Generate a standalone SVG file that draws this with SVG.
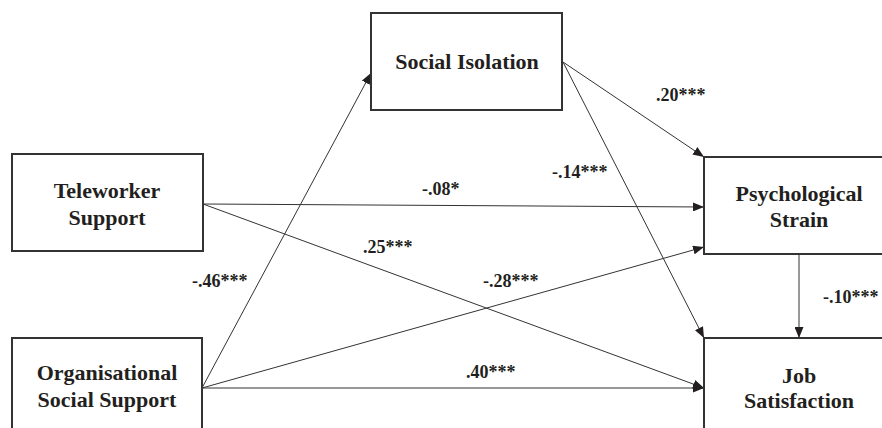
<svg xmlns="http://www.w3.org/2000/svg" width="882" height="428" viewBox="0 0 882 428">
<defs>
<style>
.box{fill:#fff;stroke:#333;stroke-width:2}
.nt{font-family:"Liberation Serif","Times New Roman",serif;font-weight:bold;font-size:22px;fill:#231f20;text-anchor:middle}
.lb{font-family:"Liberation Serif","Times New Roman",serif;font-weight:bold;font-size:18px;fill:#231f20}
.cn{stroke:#333;stroke-width:1;fill:none;marker-end:url(#ah)}
</style>
<marker id="ah" markerUnits="userSpaceOnUse" markerWidth="11" markerHeight="9" refX="11" refY="4.5" orient="auto">
<path d="M0,0 L11,4.5 L0,9 z" fill="#231f20"/>
</marker>
</defs>
<rect width="882" height="428" fill="#fff"/>
<g id="connectors">
<line class="cn" x1="202" y1="388" x2="371" y2="73"/>
<line class="cn" x1="202" y1="388" x2="704" y2="247"/>
<line class="cn" x1="202" y1="388" x2="704" y2="388"/>
<line class="cn" x1="203" y1="204" x2="704" y2="207"/>
<line class="cn" x1="203" y1="204" x2="704" y2="388"/>
<line class="cn" x1="563" y1="62" x2="704" y2="157"/>
<line class="cn" x1="563" y1="62" x2="704" y2="338"/>
<line class="cn" x1="799" y1="254" x2="799" y2="338"/>
</g>
<g id="social-isolation">
<rect class="box" x="371" y="13" width="191" height="97"/>
<text class="nt" x="467" y="69">Social Isolation</text>
</g>
<g id="teleworker-support">
<rect class="box" x="12" y="154" width="191" height="97"/>
<text class="nt" x="107" y="198">Teleworker</text>
<text class="nt" x="107" y="225">Support</text>
</g>
<g id="organisational-social-support">
<rect class="box" x="12" y="338" width="190" height="110"/>
<text class="nt" x="107" y="380">Organisational</text>
<text class="nt" x="107" y="407">Social Support</text>
</g>
<g id="psychological-strain">
<rect class="box" x="704" y="157" width="200" height="97"/>
<text class="nt" x="799" y="201">Psychological</text>
<text class="nt" x="799" y="227">Strain</text>
</g>
<g id="job-satisfaction">
<rect class="box" x="704" y="338" width="200" height="110"/>
<text class="nt" x="799" y="383">Job</text>
<text class="nt" x="799" y="408">Satisfaction</text>
</g>
<g id="labels">
<text class="lb" x="656" y="101">.20***</text>
<text class="lb" x="552" y="178">-.14***</text>
<text class="lb" x="422" y="195">-.08*</text>
<text class="lb" x="363" y="253">.25***</text>
<text class="lb" x="192" y="287">-.46***</text>
<text class="lb" x="483" y="287">-.28***</text>
<text class="lb" x="466" y="378">.40***</text>
<text class="lb" x="823" y="303">-.10***</text>
</g>
</svg>
